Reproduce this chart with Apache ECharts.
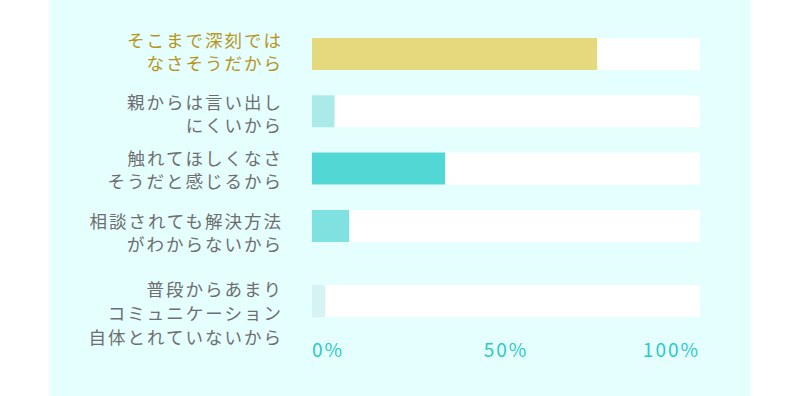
<!DOCTYPE html>
<html>
<head>
<meta charset="utf-8">
<script src="https://cdn.jsdelivr.net/npm/echarts@6/dist/echarts.min.js"></script>
<style>
html,body{margin:0;padding:0;background:#fff;}
#c{width:800px;height:396px;}
#c text{letter-spacing:2px;}
</style>
</head>
<body>
<div id="c"></div>
<script>
// ---- data ----
const categoriesTop = [
  'そこまで深刻では\nなさそうだから',
  '親からは言い出し\nにくいから',
  '触れてほしくなさ\nそうだと感じるから',
  '相談されても解決方法\nがわからないから'
];
const categoriesBottom = ['普段からあまり\nコミュニケーション\n自体とれていないから'];
const valuesTop = [73.5, 5.8, 34.3, 9.6];
const valuesBottom = [3.4];
const tickLabels = ['0%', '50%', '100%'];

// ---- styles / layout ----
const colorsTop = ['#e5d97e', '#aaeae8', '#52d8d4', '#80e2e0'];
const colorsBottom = ['#d5f3f3'];
const labelColors = ['#b5951c', '#6e6e6e', '#6e6e6e', '#6e6e6e', '#6e6e6e'];
const labelCenters = [51, 113, 169, 232, 312];
const labelLineHeights = [23, 23, 23, 23, 24];

const chart = echarts.init(document.getElementById('c'), null, {renderer: 'svg'});
const font = '"Noto Sans CJK JP", "Noto Sans", sans-serif';
const allCategories = categoriesTop.concat(categoriesBottom);

const grids = [
  {left: 312, right: 100, top: 25.3, height: 229.3},
  {left: 312, right: 100, top: 280, height: 42}
];
const xAxes = [
  {gridIndex: 0, type: 'value', min: 0, max: 100, interval: 50, show: false},
  {
    gridIndex: 1, type: 'value', min: 0, max: 100, interval: 50,
    axisLine: {show: false}, axisTick: {show: false}, splitLine: {show: false},
    axisLabel: {
      margin: 17, color: '#2ccac6', fontSize: 19, fontFamily: font,
      alignMinLabel: 'left', alignMaxLabel: 'right',
      formatter: function (v) { return tickLabels[Math.round(v / 50)]; }
    }
  }
];
const yAxes = [
  {gridIndex: 0, type: 'category', inverse: true, data: categoriesTop, show: false},
  {gridIndex: 1, type: 'category', inverse: true, data: categoriesBottom, show: false}
];
// label-only grids, one per category
allCategories.forEach((cat, i) => {
  const gi = grids.length;
  grids.push({left: 312, right: 100, top: labelCenters[i] - 20, height: 40});
  xAxes.push({gridIndex: gi, type: 'value', min: 0, max: 100, show: false});
  yAxes.push({
    gridIndex: gi, type: 'category', data: [cat],
    axisLine: {show: false}, axisTick: {show: false}, splitLine: {show: false},
    axisLabel: {margin: 29, align: 'right', color: labelColors[i], fontSize: 17.5,
      lineHeight: labelLineHeights[i], fontFamily: font}
  });
});

const option = {
  backgroundColor: '#ffffff',
  animation: false,
  graphic: [{
    type: 'rect', z: -10, silent: true,
    shape: {x: 49, y: 0, width: 702, height: 396},
    style: {fill: '#e5fefe'}
  }],
  grid: grids,
  xAxis: xAxes,
  yAxis: yAxes,
  series: [
    {
      type: 'bar', xAxisIndex: 0, yAxisIndex: 0, barWidth: 32,
      showBackground: true, backgroundStyle: {color: '#ffffff'},
      data: valuesTop.map((v, i) => ({value: v, itemStyle: {color: colorsTop[i]}}))
    },
    {
      type: 'bar', xAxisIndex: 1, yAxisIndex: 1, barWidth: 32,
      showBackground: true, backgroundStyle: {color: '#ffffff'},
      data: valuesBottom.map((v, i) => ({value: v, itemStyle: {color: colorsBottom[i]}}))
    }
  ]
};
chart.setOption(option);
</script>
</body>
</html>
